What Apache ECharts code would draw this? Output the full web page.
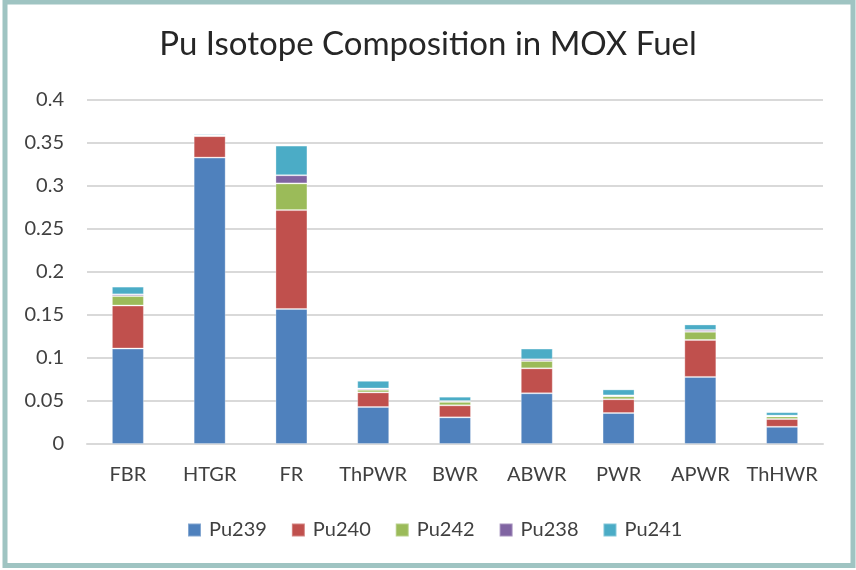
<!DOCTYPE html>
<html>
<head>
<meta charset="utf-8">
<script src="https://cdn.jsdelivr.net/npm/echarts@6/dist/echarts.min.js"></script>
<style>
  html, body { margin: 0; padding: 0; background: #fff; }
  #chart { width: 856px; height: 570px; }
</style>
</head>
<body>
<div id="chart"></div>
<script>
// reactor types
let categories = ['FBR', 'HTGR', 'FR', 'ThPWR', 'BWR', 'ABWR', 'PWR', 'APWR', 'ThHWR'];

// isotope fractions
let pu239 = [0.111, 0.333, 0.157, 0.043, 0.031, 0.059, 0.036, 0.078, 0.020];
let pu240 = [0.050, 0.025, 0.115, 0.017, 0.014, 0.029, 0.016, 0.043, 0.009];
let pu242 = [0.011, 0.0005, 0.031, 0.003, 0.004, 0.0085, 0.0035, 0.0095, 0.003];
let pu238 = [0.002, 0.0003, 0.0095, 0.0015, 0.001, 0.002, 0.001, 0.002, 0.001];
let pu241 = [0.009, 0.0015, 0.0345, 0.009, 0.005, 0.0125, 0.007, 0.0065, 0.004];

let yTicks = [0, 0.05, 0.1, 0.15, 0.2, 0.25, 0.3, 0.35, 0.4];

let seriesNames = ['Pu239', 'Pu240', 'Pu242', 'Pu238', 'Pu241'];
let seriesData = [pu239, pu240, pu242, pu238, pu241];
let colors = ['#4F81BD', '#C0504D', '#9BBB59', '#8064A2', '#4BACC6'];

let font = 'Lato, "Open Sans", sans-serif';

let chart = echarts.init(document.getElementById('chart'));

let option = {
  color: colors,
  animation: false,
  textStyle: { fontFamily: font },
  title: {
    text: 'Pu Isotope Composition in MOX Fuel',
    left: 'center',
    top: 23,
    textStyle: { fontFamily: font, fontSize: 33, fontWeight: 'normal', color: '#262626' }
  },
  legend: {
    left: 187,
    top: 520,
    padding: 0,
    itemWidth: 13,
    itemHeight: 13,
    itemGap: 24,
    icon: 'rect',
    textStyle: { fontFamily: font, fontSize: 20, color: '#404040', padding: [0, 0, 0, 3] },
    data: seriesNames
  },
  grid: {
    left: 87,
    right: 33,
    top: 100,
    bottom: 126
  },
  xAxis: {
    type: 'category',
    data: categories,
    axisTick: { show: false },
    axisLine: { lineStyle: { color: '#D9D9D9', width: 2 } },
    axisLabel: { interval: 0, fontFamily: font, fontSize: 20, color: '#404040', margin: 21 }
  },
  yAxis: {
    type: 'value',
    min: yTicks[0],
    max: yTicks[yTicks.length - 1],
    interval: 0.05,
    axisLine: { show: false },
    axisTick: { show: false },
    splitLine: { lineStyle: { color: '#D9D9D9', width: 2 } },
    axisLabel: {
      fontFamily: font, fontSize: 20, color: '#404040', margin: 23,
      formatter: (v) => String(+v.toFixed(2))
    }
  },
  series: seriesNames.map((name, i) => ({
    name: name,
    type: 'bar',
    stack: 'total',
    barWidth: 32,
    data: seriesData[i],
    itemStyle: { borderColor: 'rgba(255,255,255,0.3)', borderWidth: 1 }
  })),
  graphic: [
    {
      type: 'rect',
      silent: true,
      shape: { x: 5, y: 2, width: 848, height: 563.5 },
      style: { fill: 'none', stroke: '#9FC4C2', lineWidth: 5 }
    }
  ]
};

chart.setOption(option);
</script>
</body>
</html>
